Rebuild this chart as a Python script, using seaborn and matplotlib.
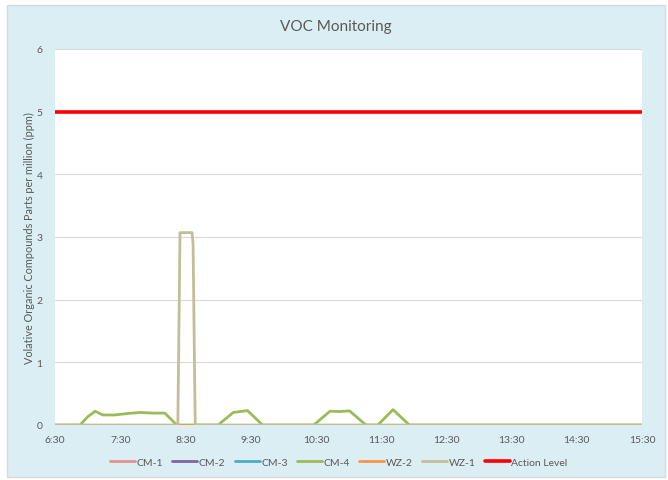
import matplotlib
matplotlib.use("Agg")
import matplotlib.pyplot as plt
from matplotlib.patches import Rectangle
import seaborn as sns
import pandas as pd

# ---- data ----
series_order = ["CM-1", "CM-2", "CM-3", "CM-4", "WZ-2", "WZ-1", "Action Level"]
colors = ["#e6908f", "#8064a2", "#4bacc6", "#9bbb59", "#f79646", "#c4bd97", "#ff0000"]

x_tick_labels = ["6:30", "7:30", "8:30", "9:30", "10:30", "11:30", "12:30", "13:30", "14:30", "15:30"]
y_ticks = [0, 1, 2, 3, 4, 5, 6]

flat_times = ["6:30", "15:30"]
flat_zero = [0, 0]

cm4_times = ["6:30", "6:53", "7:00", "7:07", "7:14", "7:25", "7:35", "7:48", "8:00", "8:11", "8:22",
             "9:00", "9:14", "9:27", "9:41",
             "10:28", "10:43", "10:52", "11:01", "11:16",
             "11:27", "11:41", "11:56", "15:30"]
cm4_values = [0, 0, 0.13, 0.22, 0.16, 0.16, 0.18, 0.20, 0.19, 0.19, 0,
              0, 0.20, 0.23, 0,
              0, 0.22, 0.215, 0.225, 0,
              0, 0.245, 0, 0]

wz1_times = ["6:30", "8:23", "8:25", "8:36", "8:37", "8:39", "15:30"]
wz1_values = [0, 0, 3.07, 3.07, 2.9, 0, 0]

action_times = ["6:30", "15:30"]
action_values = [5, 5]


def to_hours(t):
    h, m = t.split(":")
    return int(h) + int(m) / 60.0


rows = []
for name in ["CM-1", "CM-2", "CM-3"]:
    for t, v in zip(flat_times, flat_zero):
        rows.append((name, to_hours(t), v))
for t, v in zip(cm4_times, cm4_values):
    rows.append(("CM-4", to_hours(t), v))
for t, v in zip(flat_times, flat_zero):
    rows.append(("WZ-2", to_hours(t), v))
for t, v in zip(wz1_times, wz1_values):
    rows.append(("WZ-1", to_hours(t), v))
for t, v in zip(action_times, action_values):
    rows.append(("Action Level", to_hours(t), v))
df = pd.DataFrame(rows, columns=["series", "time", "ppm"])

# ---- figure ----
sns.set_theme(style="white")
plt.rcParams["font.family"] = ["Lato", "DejaVu Sans"]
text_color = "#595959"

W, H = 668, 481
fig = plt.figure(figsize=(W / 100, H / 100), dpi=100)
fig.patch.set_facecolor("white")
fig.add_artist(Rectangle((7 / W, 3 / H), (665 - 7) / W, (478 - 6) / H,
                         transform=fig.transFigure, facecolor="#dbeef4",
                         edgecolor="#d9d9d9", linewidth=1.0, zorder=0))

ax = fig.add_axes([55 / W, (H - 426) / H, (642 - 55) / W, (426 - 50) / H])
ax.set_facecolor("white")
ax.set_zorder(1)

sns.lineplot(data=df, x="time", y="ppm", hue="series", hue_order=series_order,
             palette=colors, ax=ax, linewidth=2.0, estimator=None, sort=False, legend=False)
for line, name in zip(ax.get_lines(), series_order):
    if name == "Action Level":
        line.set_linewidth(2.6)
    line.set_solid_joinstyle("round")

ax.set_xlim(6.5, 15.5)
ax.set_ylim(0, 6)
ax.set_xticks([to_hours(t) for t in x_tick_labels])
ax.set_xticklabels(x_tick_labels)
ax.set_yticks(y_ticks)
ax.set_yticklabels([str(v) for v in y_ticks])
ax.tick_params(axis="both", length=0, labelsize=7.5, colors=text_color)
ax.tick_params(axis="x", pad=7)
ax.tick_params(axis="y", pad=9)
ax.yaxis.grid(True, color="#d9d9d9", linewidth=0.8)
ax.set_axisbelow(True)
for s in ax.spines.values():
    s.set_visible(False)
ax.set_xlabel("")
ax.set_ylabel("Volative Organic Compounds Parts per million (ppm)", fontsize=7.8,
              color=text_color, labelpad=0)
ax.yaxis.set_label_coords(-20 / (642 - 55), 0.5)

fig.text(0.503, 1 - 27 / H, "VOC Monitoring", ha="center", va="center",
         fontsize=11, color=text_color)

handles = [plt.Line2D([], [], color=c, linewidth=2.6 if n == "Action Level" else 2.0)
           for n, c in zip(series_order, colors)]
fig.legend(handles, series_order, loc="center", bbox_to_anchor=(0.507, 1 - 463 / H),
           ncol=7, frameon=False, fontsize=7.5, handlelength=2.4, handletextpad=0.15,
           columnspacing=0.9, labelcolor=text_color)

fig.savefig("out.png", dpi=100)
